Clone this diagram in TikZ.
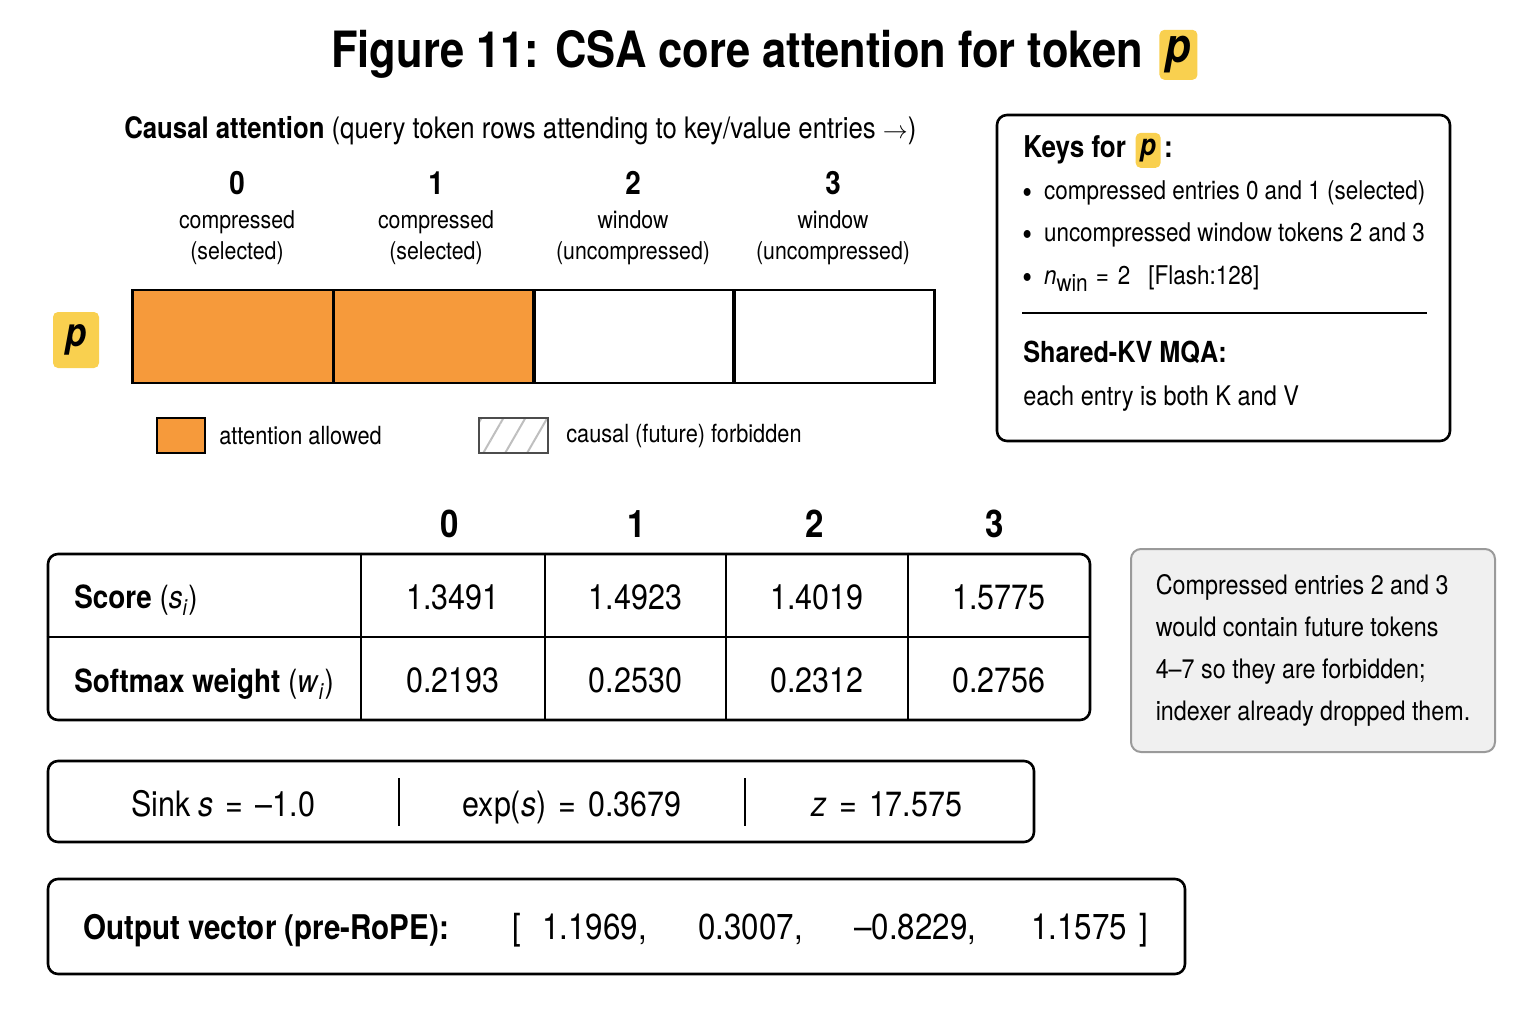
\documentclass[tikz,border=0pt]{standalone}
\usepackage{fontspec}
\setmainfont{TeX Gyre Heros}[FakeStretch=0.87]
\usetikzlibrary{positioning,patterns.meta}

\definecolor{allowed}{HTML}{F69A3B}
\definecolor{tokyellow}{HTML}{F9D04F}
\definecolor{notefill}{HTML}{F0F0F0}
\definecolor{notegray}{HTML}{9A9A9A}

\newcommand\sz[1]{\fontsize{#1}{#1}\selectfont}
\newcommand\eq{\hspace{12pt}=\hspace{12pt}}
\newcommand\bul{\raisebox{-4pt}{\sz{32}\textbullet}\hspace{12pt}}
\newcommand\Keyhead[4]{
  \node[hdr,anchor=base] (h#1) at (#2,195) {#1};
  \node[txt,font=\sz{24.5},anchor=base] (h#1a) at (#2,229) {#3};
  \node[txt,font=\sz{24.5},anchor=base] (h#1b) at (#2,260) {#4};
}
\newcommand\Tval[4]{
  \node[val,anchor=base] (#1) at (#2,#3) {#4};
}

\tikzstyle{box}=[rectangle,draw,rounded corners=10pt,line width=2.6pt]
\tikzstyle{keycell}=[rectangle,draw,line width=2.6pt,minimum width=201pt,minimum height=93pt,inner sep=0pt]
\tikzstyle{tok}=[rectangle,fill=tokyellow,rounded corners=5pt,inner sep=0pt]
\tikzstyle{txt}=[inner sep=0pt,font=\sz{25}]
\tikzstyle{hdr}=[inner sep=0pt,font=\bfseries\sz{32}]
\tikzstyle{val}=[inner sep=0pt,font=\sz{35}]
\tikzstyle{notebox}=[rectangle,draw=notegray,fill=notefill,line width=2pt,rounded corners=10pt,minimum width=364pt,minimum height=203pt,align=left]

\begin{document}
\begin{tikzpicture}[x=1pt,y=-1pt,line width=2.6pt]
  \useasboundingbox (0,0) rectangle (1536,1024);
  % title
  \node[hdr,font=\bfseries\sz{50},anchor=base west] (title) at (330,68) {Figure 11: CSA core attention for token};
  \node[tok,font=\bfseries\itshape\sz{48},minimum width=38pt,minimum height=50pt,right=14pt of title] (titlep) {p};
  % attention row
  \node[txt,font=\sz{29.6},anchor=base west] (causal) at (123,139) {\textbf{Causal attention} (query token rows attending to key/value entries $\rightarrow$)};
  \Keyhead{0}{237}{compressed}{(selected)}
  \Keyhead{1}{436}{compressed}{(selected)}
  \Keyhead{2}{633}{window}{(uncompressed)}
  \Keyhead{3}{833}{window}{(uncompressed)}
  \node[keycell,fill=allowed] (k0) at (233,336.5) {};
  \node[keycell,fill=allowed] (k1) at (434,336.5) {};
  \node[keycell] (k2) at (634,336.5) {};
  \node[keycell] (k3) at (834,336.5) {};
  \node[tok,font=\bfseries\itshape\sz{40},minimum width=46pt,minimum height=56pt] (rowp) at (76,340) {p};
  % legend
  \node[rectangle,draw,line width=2pt,fill=allowed,minimum width=48pt,minimum height=35pt] (legok) at (181,435.5) {};
  \node[txt,right=12pt of legok] (legoktxt) {attention allowed};
  \node[rectangle,draw=black!70,line width=1.8pt,pattern={Lines[angle=60,distance=19pt,line width=2pt]},pattern color=black!25,minimum width=69pt,minimum height=35pt] (legno) at (513.5,435.5) {};
  \node[txt,right=16pt of legno] (legnotxt) {causal (future) forbidden};
  % keys for p
  \node[box,minimum width=453pt,minimum height=326pt] (keys) at (1223.5,278) {};
  \node[hdr,font=\bfseries\sz{30},anchor=base west] (keysttl) at (1022,158) {Keys for};
  \node[tok,font=\bfseries\itshape\sz{30},minimum width=25pt,minimum height=35pt,right=7pt of keysttl] (keysp) {p};
  \node[hdr,font=\bfseries\sz{30},anchor=base west] (keyscol) at ([xshift=1pt]keysp.east |- keysttl.base) {:};
  \node[txt,font=\sz{25.8},anchor=base west] (kb1) at (1021,200) {\bul compressed entries 0 and 1 (selected)};
  \node[txt,font=\sz{25.8},anchor=base west] (kb2) at (1021,242) {\bul uncompressed window tokens 2 and 3};
  \node[txt,font=\sz{25.8},anchor=base west] (kb3) at (1021,284) {\bul\textit{n}\raisebox{-7pt}{\sz{24}win}\hspace{8pt}=\hspace{9pt}2\hspace{18pt}[Flash:128]};
  \draw[line width=1.6pt] (1022,313) -- (1427,313);
  \node[hdr,font=\bfseries\sz{29},anchor=base west] (kvttl) at (1022,362) {Shared-KV MQA:};
  \node[txt,font=\sz{27},anchor=base west] (kvtxt) at (1022,405) {each entry is both K and V};
  % score table
  \node[hdr,font=\bfseries\sz{38},anchor=base] (c0) at (450,537) {0};
  \node[hdr,font=\bfseries\sz{38},anchor=base] (c1) at (637,537) {1};
  \node[hdr,font=\bfseries\sz{38},anchor=base] (c2) at (815,537) {2};
  \node[hdr,font=\bfseries\sz{38},anchor=base] (c3) at (995,537) {3};
  \node[box,minimum width=1042pt,minimum height=166pt] (tbl) at (569,637) {};
  \draw (tbl.west |- 0,637) -- (tbl.east |- 0,637);
  \draw (361,0 |- tbl.north) -- (361,0 |- tbl.south);
  \draw (545,0 |- tbl.north) -- (545,0 |- tbl.south);
  \draw (726,0 |- tbl.north) -- (726,0 |- tbl.south);
  \draw (908,0 |- tbl.north) -- (908,0 |- tbl.south);
  \node[hdr,anchor=base west] (lscore) at (73,608) {Score \textmd{(\textit{s}\textsubscript{\textit{i}})}};
  \node[hdr,anchor=base west] (lsoft) at (73,692) {Softmax weight \textmd{(\textit{w}\textsubscript{\textit{i}})}};
  \Tval{s0}{453}{609}{1.3491}
  \Tval{s1}{635.5}{609}{1.4923}
  \Tval{s2}{817}{609}{1.4019}
  \Tval{s3}{999}{609}{1.5775}
  \Tval{w0}{453}{692}{0.2193}
  \Tval{w1}{635.5}{692}{0.2530}
  \Tval{w2}{817}{692}{0.2312}
  \Tval{w3}{999}{692}{0.2756}
  % note
  \node[notebox,font=\fontsize{26.8}{42}\selectfont] (note) at (1313,650.5) {Compressed entries 2 and 3\\would contain future tokens\\4--7 so they are forbidden;\\indexer already dropped them.};
  % sink
  \node[box,minimum width=986pt,minimum height=81pt] (sink) at (541,801.5) {};
  \Tval{sinks}{223}{816}{Sink \textit{s}\eq--1.0}
  \Tval{sinkexp}{572}{816}{exp(\textit{s})\eq0.3679}
  \Tval{sinkz}{887}{816}{\textit{z}\eq17.575}
  \draw[line width=1.6pt] (399,778) -- (399,826);
  \draw[line width=1.6pt] (745,778) -- (745,826);
  % output vector
  \node[box,minimum width=1137pt,minimum height=95pt] (outbox) at (616.5,926.5) {};
  \node[hdr,font=\bfseries\sz{34},anchor=base west] (outlbl) at (82,939) {Output vector (pre-RoPE):};
  \node[val,font=\sz{36},anchor=base west] (obl) at (511,939) {[};
  \node[val,font=\sz{36},anchor=base west] (o0) at (541,939) {1.1969,};
  \node[val,font=\sz{36},anchor=base west] (o1) at (697,939) {0.3007,};
  \node[val,font=\sz{36},anchor=base west] (o2) at (853,939) {--0.8229,};
  \node[val,font=\sz{36},anchor=base west] (o3) at (1030,939) {1.1575};
  \node[val,font=\sz{36},anchor=base west] (obr) at (1138,939) {]};
\end{tikzpicture}
\end{document}
